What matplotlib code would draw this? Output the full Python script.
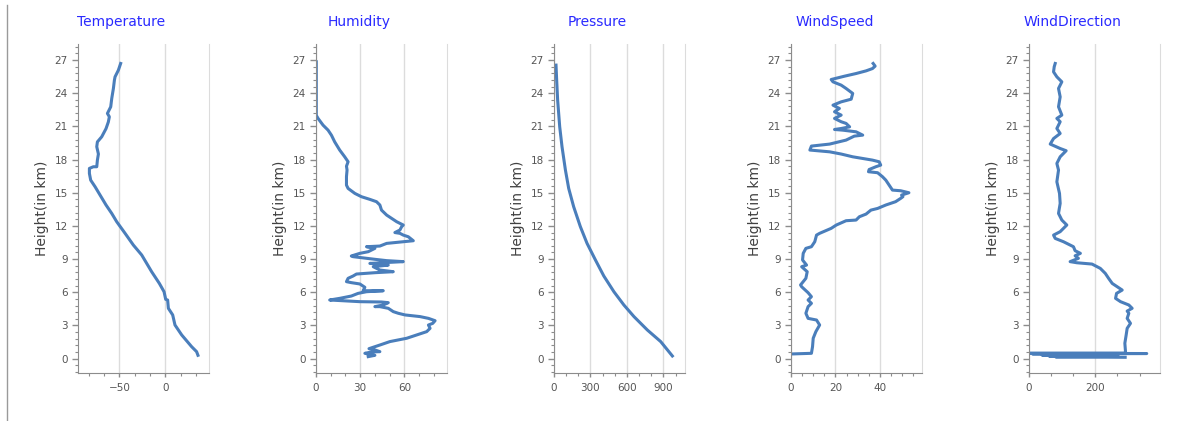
import matplotlib
matplotlib.use("Agg")
import matplotlib.pyplot as plt
from matplotlib.ticker import AutoMinorLocator
from matplotlib.lines import Line2D

# ---------------- data ----------------
temp_h = [0.3, 0.63, 1.08, 2.14, 3.04, 3.95, 4.55, 5.3, 5.36, 6.05, 6.8, 7.86, 9.37, 10.27,
          11.33, 12.38, 13.13, 13.89, 14.79, 15.54, 16.14, 16.75, 17.2, 17.35, 17.35, 17.95,
          18.5, 19.16, 19.6, 20.06, 20.8, 21.4, 21.87, 22.17, 22.77, 23.52, 24.43, 25.18,
          25.48, 26.08, 26.69]
temp_v = [35.5, 34.0, 28.6, 17.8, 10.5, 8.0, 3.3, 2.5, 0.4, -1.4, -6.5, -14.9, -25.7, -34.8,
          -43.8, -52.9, -58.3, -64.5, -71.0, -76.4, -81.2, -82.6, -82.6, -78.3, -74.6, -73.9,
          -72.8, -74.6, -73.9, -69.2, -64.5, -62.0, -60.9, -63.0, -59.4, -58.3, -56.5, -55.4,
          -54.7, -51.1, -48.6]

hum_h = [0.18, 0.3, 0.48, 0.6, 0.63, 0.84, 0.9, 1.23, 1.54, 1.84, 2.29, 2.44, 2.74, 3.04,
         3.19, 3.43, 3.64, 3.8, 3.95, 4.1, 4.25, 4.55, 4.7, 4.7, 4.85, 5.06, 5.12, 5.15, 5.3,
         5.45, 5.66, 5.9, 6.05, 6.14, 6.14, 6.45, 6.75, 6.87, 6.96, 7.26, 7.47, 7.65, 7.77,
         7.86, 8.01, 8.31, 8.46, 8.61, 8.77, 8.86, 8.98, 9.22, 9.28, 9.52, 9.67, 9.97, 10.12,
         10.18, 10.42, 10.57, 10.66, 11.02, 11.17, 11.33, 11.4, 11.63, 11.93, 12.08, 12.38,
         12.68, 12.98, 13.43, 13.89, 14.19, 14.4, 14.64, 14.94, 15.39, 15.69, 16.45, 17.05,
         17.4, 17.8, 18.25, 18.86, 19.6, 20.2, 20.66, 21.11, 21.72, 22.0, 26.84]
hum_v = [35.5, 40.0, 33.2, 37.7, 43.4, 38.9, 36.0, 43.4, 50.2, 61.6, 71.8, 75.2, 77.5, 76.4,
         79.3, 80.9, 76.4, 70.7, 60.5, 55.9, 52.5, 49.1, 43.4, 40.0, 45.7, 49.1, 44.5, 29.8, 9.3,
         16.1, 24.0, 28.6, 34.3, 45.7, 32.0, 33.2, 29.8, 24.0, 20.7, 21.8, 25.2, 27.5, 40.0,
         52.5, 43.4, 38.9, 49.1, 36.6, 59.3, 48.0, 40.0, 25.2, 24.0, 29.8, 35.5, 40.0, 34.3,
         43.4, 48.0, 59.3, 66.1, 62.7, 59.3, 57.0, 53.6, 57.0, 58.2, 59.3, 54.8, 51.4, 48.0,
         44.5, 43.4, 41.1, 36.6, 30.9, 26.4, 21.8, 20.7, 20.7, 21.1, 20.7, 21.8, 19.5, 16.1,
         12.7, 10.5, 8.2, 4.8, 1.4, 0.2, 0.2]

pres_h = [0.24, 1.54, 2.59, 3.8, 4.85, 6.05, 7.47, 8.92, 10.42, 11.93, 13.73, 15.39, 17.05,
          19.16, 20.96, 23.37, 25.18, 26.54]
pres_v = [974, 878, 768, 658, 575, 493, 410, 341, 272, 217, 162, 121, 94, 66, 47, 30, 22, 16.5]

ws_h = [0.42, 0.48, 1.08, 1.84, 2.44, 3.04, 3.49, 3.64, 4.1, 4.7, 5.0, 5.3, 5.6, 5.96, 6.5,
        6.66, 7.26, 7.86, 8.31, 8.46, 8.92, 9.52, 9.97, 10.12, 10.57, 11.17, 11.33, 11.78,
        12.08, 12.47, 12.53, 12.83, 13.07, 13.43, 13.58, 13.89, 14.19, 14.49, 14.64, 14.79,
        15.0, 15.18, 15.24, 15.69, 16.14, 16.45, 16.81, 16.9, 17.1, 17.35, 17.5, 17.8, 17.95,
        18.25, 18.5, 18.7, 18.86, 19.22, 19.4, 19.76, 20.12, 20.21, 20.51, 20.66, 20.72, 20.81,
        20.96, 21.27, 21.42, 21.72, 22.02, 22.32, 22.62, 22.92, 23.22, 23.46, 23.98, 24.43,
        24.73, 25.03, 25.24, 25.54, 25.78, 26.02, 26.23, 26.45, 26.69]
ws_v = [0.0, 9.2, 9.7, 10.0, 11.2, 12.9, 11.5, 7.7, 6.7, 7.7, 9.2, 7.7, 9.2, 7.7, 4.8, 4.3,
        6.7, 7.3, 4.8, 7.0, 5.2, 5.5, 6.7, 9.2, 10.7, 11.5, 12.9, 18.1, 20.4, 24.8, 29.3, 30.8,
        33.8, 36.0, 39.0, 42.7, 47.1, 49.4, 50.4, 49.8, 53.1, 49.4, 45.7, 44.2, 42.7, 41.2,
        39.0, 34.9, 35.2, 38.2, 40.4, 39.7, 36.7, 27.8, 22.6, 17.4, 8.5, 9.2, 17.4, 24.8, 28.5,
        32.3, 29.3, 23.3, 19.6, 22.6, 26.4, 24.8, 22.6, 19.6, 22.6, 19.6, 21.8, 18.9, 22.6,
        27.1, 27.8, 24.8, 22.6, 18.9, 18.1, 24.1, 29.3, 33.8, 36.7, 37.9, 37.0]

wd_h = [0.12, 0.16, 0.2, 0.24, 0.28, 0.3, 0.34, 0.37, 0.4, 0.43, 0.46, 0.48, 0.5, 0.63, 1.39,
        2.14, 2.74, 3.19, 3.64, 4.1, 4.3, 4.55, 4.85, 5.15, 5.45, 5.9, 6.2, 6.5, 6.8, 7.26,
        7.71, 8.16, 8.55, 8.67, 8.77, 9.07, 9.3, 9.52, 9.76, 10.12, 10.57, 10.87, 11.17, 11.48,
        12.08, 12.53, 13.13, 14.04, 14.94, 15.99, 17.05, 17.65, 18.25, 18.8, 19.0, 19.4, 19.9,
        20.36, 20.81, 21.42, 21.72, 22.02, 22.77, 23.67, 24.43, 25.03, 25.48, 25.93, 26.39,
        26.69]
wd_v = [290, 80, 260, 60, 240, 40, 230, 70, 270, 10, 355, 0, 290, 291, 289, 293, 296, 306,
        296, 301, 296, 311, 301, 276, 261, 264, 281, 266, 251, 240, 230, 215, 190, 144, 124,
        149, 139, 155, 139, 134, 104, 79, 74, 94, 114, 99, 89, 94, 92, 84, 89, 84, 94, 112, 94,
        64, 74, 94, 84, 94, 84, 99, 89, 94, 89, 99, 84, 74, 76, 79]

titles = ["Temperature", "Humidity", "Pressure", "WindSpeed", "WindDirection"]
xticks = [[-50, 0], [0, 30, 60], [0, 300, 600, 900], [0, 20, 40], [0, 200]]
yticks = [0, 3, 6, 9, 12, 15, 18, 21, 24, 27]

series = [(temp_v, temp_h), (hum_v, hum_h), (pres_v, pres_h), (ws_v, ws_h), (wd_v, wd_h)]
xlims = [(-95, 47.5), (0, 89), (0, 1078), (0, 59), (0, 395)]
minor_div = [3, 3, 3, 4, 3]

# ---------------- figure ----------------
W, H = 1190, 421
fig = plt.figure(figsize=(W / 100, H / 100), dpi=100)
lefts = [78, 316, 554, 791, 1029]
ax_w, ax_top, ax_bot = 131, 44, 373
line_color = "#4a7ebb"
tick_col = "#555555"

for i, (xv, hv) in enumerate(series):
    L = lefts[i]
    ax = fig.add_axes([L / W, (H - ax_bot) / H, ax_w / W, (ax_bot - ax_top) / H])
    ax.plot(xv, hv, color=line_color, lw=2.2, solid_joinstyle="round")
    ax.set_xlim(*xlims[i])
    ax.set_ylim(-1.3, 28.45)
    ax.set_xticks(xticks[i])
    ax.set_yticks(yticks)
    ax.xaxis.set_minor_locator(AutoMinorLocator(minor_div[i]))
    ax.yaxis.set_minor_locator(AutoMinorLocator(5))
    ax.grid(axis="x", which="major", color="#dcdcdc", lw=1.0)
    ax.set_axisbelow(True)
    ax.spines["top"].set_visible(False)
    ax.spines["right"].set_color("#dcdcdc")
    ax.spines["left"].set_color("#8c8c8c")
    ax.spines["bottom"].set_color("#8c8c8c")
    ax.tick_params(axis="both", which="major", labelsize=7.5, colors="#8c8c8c",
                   labelcolor=tick_col, length=4, width=1)
    ax.tick_params(axis="both", which="minor", colors="#8c8c8c", length=2, width=0.8)
    ax.tick_params(axis="x", which="major", length=3, pad=4)
    ax.set_ylabel("Height(in km)", fontsize=10, color="#404040", labelpad=4)
    fig.text((L + 43.5) / W, 1 - 22 / H, titles[i], color="#2a2aff", fontsize=10,
             ha="center", va="center")

fig.add_artist(Line2D([7 / W, 7 / W], [1 - 5 / H, 1 - 420 / H], color="#9a9a9a", lw=1))

fig.savefig("out.png", dpi=100)
